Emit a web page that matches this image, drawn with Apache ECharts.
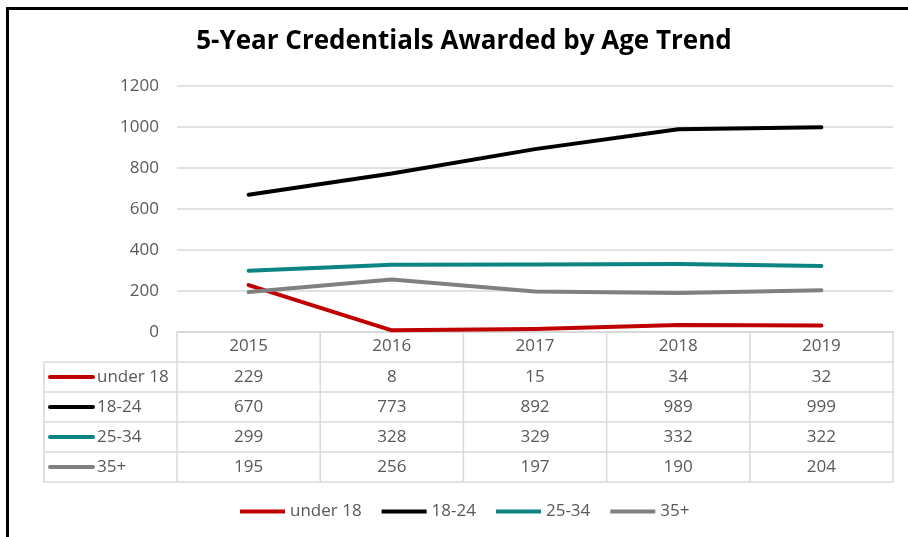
<!DOCTYPE html>
<html>
<head>
<meta charset="utf-8">
<script src="https://cdn.jsdelivr.net/npm/echarts@6/dist/echarts.min.js"></script>
<style>
  html, body { margin: 0; padding: 0; background: #fff; }
  #chart { width: 908px; height: 537px; }
</style>
</head>
<body>
<div id="chart"></div>
<script>
// Credentials awarded per year, split by age group
const years = ['2015', '2016', '2017', '2018', '2019'];
const under18 = [229, 8, 15, 34, 32];
const age18to24 = [670, 773, 892, 989, 999];
const age25to34 = [299, 328, 329, 332, 322];
const age35plus = [195, 256, 197, 190, 204];
const seriesNames = ['under 18', '18-24', '25-34', '35+'];
const yTicks = [0, 200, 400, 600, 800, 1000, 1200];

const colors = ['#C00000', '#000000', '#0B8483', '#808080'];
const rows = [under18, age18to24, age25to34, age35plus];
const FONT = 'Open Sans';
const TEXT = '#595959';
const LINE = '#D9D9D9';
const ROW_H = 30;
const TABLE_LEFT = 44;

const chart = echarts.init(document.getElementById('chart'));

chart.setOption({
  animation: false,
  textStyle: { fontFamily: FONT },
  title: {
    text: '5-Year Credentials Awarded by Age Trend',
    left: 459,
    top: 24,
    textAlign: 'center',
    textStyle: { fontFamily: FONT, fontWeight: 'bold', fontSize: 26, color: '#000' }
  },
  legend: {
    data: seriesNames,
    bottom: 12,
    left: 235,
    itemWidth: 45,
    itemHeight: 4,
    itemGap: 20,
    icon: 'rect',
    textStyle: { fontFamily: FONT, fontSize: 17, color: TEXT }
  },
  grid: { left: 177, right: 15, top: 86, bottom: 205 },
  xAxis: {
    type: 'category',
    data: years,
    boundaryGap: true,
    axisLine: { show: true, lineStyle: { color: LINE, width: 1.5 } },
    axisTick: { show: false },
    axisLabel: { margin: 6, fontSize: 17, color: TEXT, fontFamily: FONT }
  },
  yAxis: {
    type: 'value',
    min: yTicks[0],
    max: yTicks[yTicks.length - 1],
    interval: 200,
    axisLine: { show: false },
    axisTick: { show: false },
    axisLabel: { margin: 18, fontSize: 17, color: TEXT, fontFamily: FONT, formatter: v => String(v) },
    splitLine: { lineStyle: { color: LINE, width: 1.5 } }
  },
  series: seriesNames.map((name, i) => ({
    name,
    type: 'line',
    data: rows[i],
    color: colors[i],
    symbol: 'none',
    lineStyle: { width: 4, color: colors[i], cap: 'round', join: 'round' }
  }))
});

// Data table under the plot, laid out from the axis scale
function drawTable() {
  const top = chart.convertToPixel({ yAxisIndex: 0 }, 0);
  const x0 = chart.convertToPixel({ xAxisIndex: 0 }, 0);
  const x1 = chart.convertToPixel({ xAxisIndex: 0 }, 1);
  const colW = x1 - x0;
  const left = x0 - colW / 2;
  const right = left + colW * years.length;
  const headerBottom = top + ROW_H;
  const bottom = headerBottom + ROW_H * rows.length;
  const els = [];
  const stroke = { stroke: LINE, lineWidth: 1.5 };

  // horizontal rules
  els.push({ type: 'line', shape: { x1: left, y1: top, x2: right, y2: top }, style: stroke, silent: true });
  for (let r = 0; r <= rows.length; r++) {
    const y = headerBottom + r * ROW_H;
    els.push({ type: 'line', shape: { x1: TABLE_LEFT, y1: y, x2: right, y2: y }, style: stroke, silent: true });
  }
  // vertical rules
  els.push({ type: 'line', shape: { x1: TABLE_LEFT, y1: headerBottom, x2: TABLE_LEFT, y2: bottom }, style: stroke, silent: true });
  for (let c = 0; c <= years.length; c++) {
    const x = left + c * colW;
    els.push({ type: 'line', shape: { x1: x, y1: top, x2: x, y2: bottom }, style: stroke, silent: true });
  }
  // row keys and values
  rows.forEach((vals, r) => {
    const cy = headerBottom + r * ROW_H + ROW_H / 2;
    els.push({ type: 'line', shape: { x1: 50, y1: cy, x2: 93, y2: cy },
      style: { stroke: colors[r], lineWidth: 4, lineCap: 'round' }, silent: true });
    els.push({ type: 'text', x: 97, y: cy, silent: true,
      style: { text: seriesNames[r], fontFamily: FONT, fontSize: 17, fill: TEXT, verticalAlign: 'middle', align: 'left' } });
    vals.forEach((v, c) => {
      els.push({ type: 'text', x: chart.convertToPixel({ xAxisIndex: 0 }, c), y: cy, silent: true,
        style: { text: String(v), fontFamily: FONT, fontSize: 17, fill: TEXT, verticalAlign: 'middle', align: 'center' } });
    });
  });
  // frame on the left and top edges
  els.push({ type: 'rect', shape: { x: 6, y: 7, width: 3, height: 537 }, style: { fill: '#000' }, silent: true });
  els.push({ type: 'rect', shape: { x: 6, y: 7, width: 908, height: 3 }, style: { fill: '#000' }, silent: true });

  chart.setOption({ graphic: els });
}
drawTable();
</script>
</body>
</html>
